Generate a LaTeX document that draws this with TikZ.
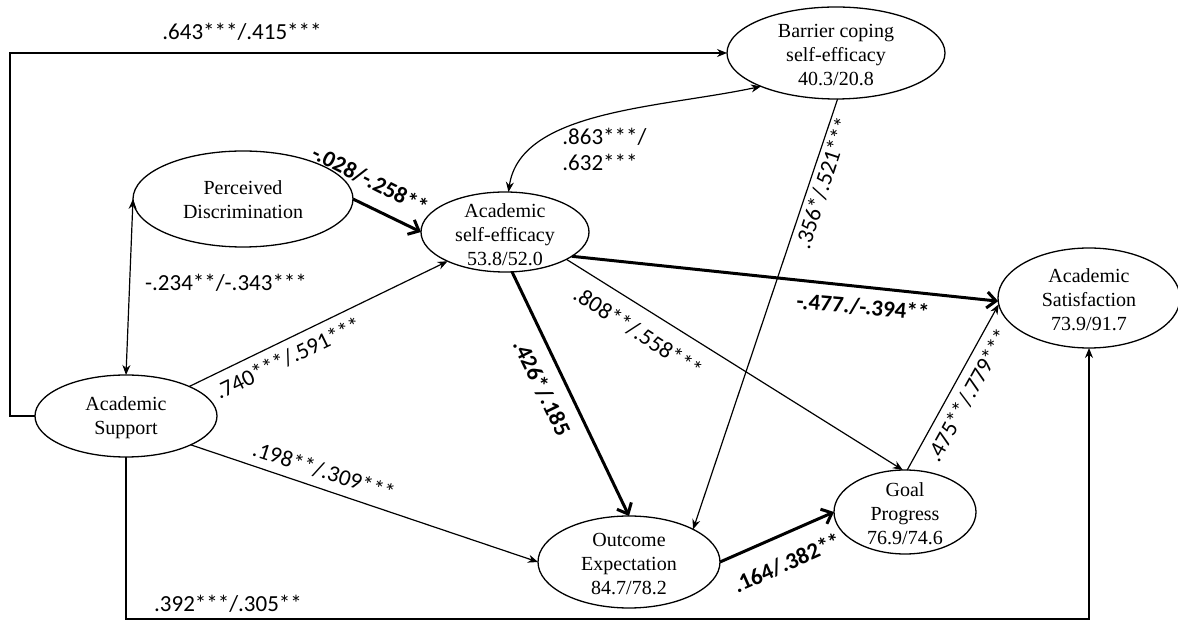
\documentclass[tikz,border=0pt]{standalone}
\usepackage{fontspec}
\setmainfont{Liberation Serif}
\newfontfamily\lblfont{Carlito}
\usetikzlibrary{arrows.meta,shapes.geometric}
\begin{document}
\begin{tikzpicture}[x=0.5pt,y=-0.5pt,
  ell/.style={draw, ellipse, line width=0.65pt, inner sep=0pt, outer sep=0pt},
  ntext/.style={align=center, font=\fontsize{10}{12}\selectfont, inner sep=0pt},
  thinarr/.style={line width=0.6pt, -{Stealth[length=5pt,width=4pt]}},
  thinboth/.style={line width=0.6pt, {Stealth[length=5pt,width=4pt]}-{Stealth[length=5pt,width=4pt]}},
  thickarr/.style={line width=1.5pt, -{Straight Barb[length=4.5pt,width=8pt]}},
  lbl/.style={font=\lblfont\fontsize{11.5}{13}\selectfont, inner sep=0pt},
  blbl/.style={font=\lblfont\bfseries\fontsize{11.5}{13}\selectfont, inner sep=0pt}]

\fill[white] (0,0) rectangle (1178,624);
\useasboundingbox (0,0) rectangle (1178,624);

% ellipses
\node[ell, minimum width=109pt, minimum height=46pt] (bcs) at (836,53) {};
\node[ell, minimum width=110pt, minimum height=48pt] (pd) at (243,199) {};
\node[ell, minimum width=84pt, minimum height=40pt] (ase) at (505,232) {};
\node[ell, minimum width=91pt, minimum height=50pt] (sat) at (1089,298) {};
\node[ell, minimum width=91pt, minimum height=41pt] (as) at (126,416) {};
\node[ell, minimum width=91pt, minimum height=46pt] (oe) at (629,562) {};
\node[ell, minimum width=71pt, minimum height=42pt] (gp) at (905,512) {};

% texts
\node[ntext] (bcst) at (836,55) {Barrier coping\\self-efficacy\\40.3/20.8};
\node[ntext] (pdt) at (243,200) {Perceived\\Discrimination};
\node[ntext] (aset) at (505,235) {Academic\\self-efficacy\\53.8/52.0};
\node[ntext] (satt) at (1089,300) {Academic\\Satisfaction\\73.9/91.7};
\node[ntext] (ast) at (126,418) {Academic\\Support};
\node[ntext] (oet) at (629,564) {Outcome\\Expectation\\84.7/78.2};
\node[ntext] (gpt) at (905,514) {Goal\\Progress\\76.9/74.6};

% connectors
\draw[thinarr] (as.west) -- ++(-25,0) |- (bcs.west);
\draw[thinboth] (as.north) -- (pd.west);
\draw[thickarr] (pd.east) -- (ase.west);
\draw[thinarr] (as.25) -- (ase.207);
\draw[thinboth] (ase.85) .. controls (520,110) and (660,108) .. (bcs.204);
\draw[thinarr] (bcs.272) -- (oe.27);
\draw[thickarr] (ase.-20) -- (sat.182);
\draw[thinarr] (ase.-24) -- (gp.93);
\draw[thickarr] (ase.-80) -- (oe.north);
\draw[thinarr] (as.-24) -- (oe.west);
\draw[thickarr] (oe.east) -- (gp.west);
\draw[thinarr] (gp.87) -- (sat.184);
\draw[thinarr] (as.south) -- ++(0,162) -| (sat.south);

% labels
\node[lbl] (l1) at (242,32) {.643***/.415***};
\node[lbl] (l2) at (226,283) {-.234**/-.343***};
\node[blbl, rotate=-27] (l3) at (370,180) {-.028/-.258**};
\node[lbl, rotate=26] (l4) at (288,358) {.740***/.591***};
\node[lbl, align=left, anchor=west] (l5) at (562,149) {.863***/\\.632***};
\node[lbl, rotate=72] (l6) at (823,183) {.356*/.521***};
\node[blbl, rotate=-5] (l7) at (863,307) {-.477./-.394**};
\node[lbl, rotate=-33] (l8) at (638,332) {.808**/.558***};
\node[blbl, rotate=-64] (l9) at (542,388) {.426*/.185};
\node[lbl, rotate=-18] (l10) at (324,471) {.198**/.309***};
\node[blbl, rotate=24] (l11) at (787,563) {.164/.382**};
\node[lbl, rotate=61] (l12) at (968,395) {.475**/.779***};
\node[lbl] (l13) at (228,604) {.392***/.305**};
\end{tikzpicture}
\end{document}
